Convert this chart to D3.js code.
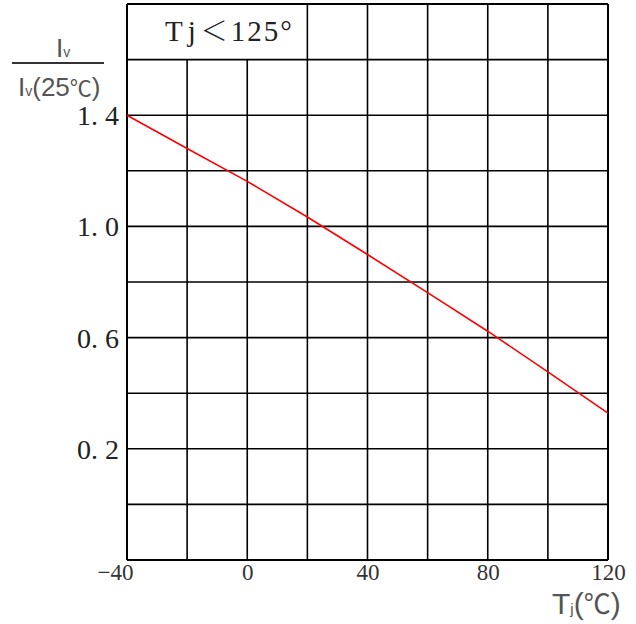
<!DOCTYPE html>
<html><head><meta charset="utf-8">
<script src="https://cdn.jsdelivr.net/npm/d3@7"></script>
<style>body{margin:0;background:#fff}svg{display:block}</style>
</head><body>
<svg id="c" width="636" height="624"></svg>
<script>
// Data
const temps = [-40, -20, 0, 20, 40, 60, 80, 100, 120];
const ratio = [1.40, 1.28, 1.162, 1.034, 0.899, 0.762, 0.623, 0.477, 0.328];
const xTicks = [-40, 0, 40, 80, 120];
const yTicks = [0.2, 0.6, 1.0, 1.4];
const xGrid = [-40, -20, 0, 20, 40, 60, 80, 100, 120];
const yGrid = [-0.2, 0, 0.2, 0.4, 0.6, 0.8, 1.0, 1.2, 1.4, 1.6, 1.8];

const svg = d3.select("#c");
const x = d3.scaleLinear().domain([-40, 120]).range([127, 608]);
const y = d3.scaleLinear().domain([-0.2, 1.8]).range([560, 4]);

const g = svg.append("g");
g.selectAll("line.h").data(yGrid).join("line")
  .attr("x1", x(-40)).attr("x2", x(120))
  .attr("y1", d => y(d)).attr("y2", d => y(d))
  .attr("stroke", "#000").attr("stroke-width", d => (d === -0.2 || d === 1.8) ? 2 : 1.6);
g.selectAll("line.v").data(xGrid).join("line")
  .attr("x1", d => x(d)).attr("x2", d => x(d))
  .attr("y1", y(-0.2))
  .attr("y2", d => (d >= 20 || d === -40) ? y(1.8) : y(1.6))
  .attr("stroke", "#000").attr("stroke-width", d => (d === -40 || d === 120) ? 2 : 1.6);

const line = d3.line().x((d, i) => x(temps[i])).y(d => y(d));
svg.append("path").datum(ratio).attr("d", line)
  .attr("fill", "none").attr("stroke", "#ff0000").attr("stroke-width", 1.6);

// note
const serif = "Liberation Serif, Noto Sans CJK SC, serif";
const note = svg.append("text").attr("x", 165).attr("y", 41)
  .attr("font-family", serif).attr("font-size", 29).attr("fill", "#222");
note.append("tspan").attr("letter-spacing", 5).text("Tj");
note.append("tspan").attr("font-family", "Noto Sans CJK SC").attr("font-weight", 300)
  .attr("font-size", 27).text("＜");
note.append("tspan").attr("dx", 3).attr("letter-spacing", 2).text("125°");

// y tick labels
const yAxis = d3.axisLeft(y).tickValues(yTicks).tickSize(0).tickPadding(0)
  .tickFormat(d => d3.format(".1f")(d).replace(".", ". "));
const ya = svg.append("g").attr("transform", "translate(119,0)").call(yAxis);
ya.select(".domain").remove();
ya.selectAll("text").attr("font-family", serif).attr("font-size", 28)
  .attr("fill", "#222").attr("dy", "0.34em");

// x tick labels
const xAxis = d3.axisBottom(x).tickValues(xTicks).tickSize(0).tickPadding(0)
  .tickFormat(d => d < 0 ? "\u2212" + Math.abs(d) : String(d));
const xa = svg.append("g").attr("transform", "translate(0,563)").call(xAxis);
xa.select(".domain").remove();
xa.selectAll("text").attr("font-family", serif).attr("font-size", 23)
  .attr("fill", "#333").attr("dy", "0.72em")
  .attr("text-anchor", d => d === -40 ? "end" : "middle")
  .attr("dx", d => d === -40 ? 6 : 0);

// y axis label (fraction)
const lab = "#555";
const sans = "Liberation Sans, Arial, sans-serif";
const t1 = svg.append("text").attr("x", 56).attr("y", 57)
  .attr("font-family", sans).attr("font-size", 26).attr("fill", lab);
t1.append("tspan").text("I");
t1.append("tspan").attr("font-size", 14).text("v");
svg.append("line").attr("x1", 12).attr("x2", 104).attr("y1", 63).attr("y2", 63)
  .attr("stroke", "#333").attr("stroke-width", 2);
const t2 = svg.append("text").attr("x", 18).attr("y", 96)
  .attr("font-family", sans).attr("font-size", 26).attr("fill", lab);
t2.append("tspan").text("I");
t2.append("tspan").attr("font-size", 14).text("v");
t2.append("tspan").text("(25");
t2.append("tspan").attr("font-family", "Noto Sans CJK SC").attr("font-size", 22).text("℃");
t2.append("tspan").text(")");

// x axis label
const t3 = svg.append("text").attr("x", 552).attr("y", 614)
  .attr("font-family", sans).attr("font-size", 30).attr("fill", lab);
t3.append("tspan").text("T");
t3.append("tspan").attr("font-size", 15).text("j");
t3.append("tspan").text("(");
t3.append("tspan").attr("font-family", "Noto Sans CJK SC").attr("font-size", 27).text("℃");
t3.append("tspan").text(")");
</script>
</body></html>
